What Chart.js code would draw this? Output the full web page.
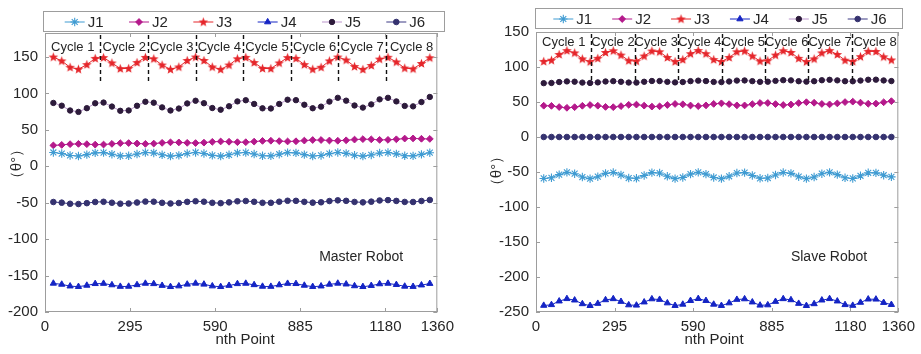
<!DOCTYPE html>
<html>
<head>
<meta charset="utf-8">
<script src="https://cdn.jsdelivr.net/npm/chart.js@4.4.1/dist/chart.umd.min.js"></script>
<style>
  html, body { margin: 0; padding: 0; background: #fff; }
  #wrap { position: relative; width: 921px; height: 354px; overflow: hidden; }
  canvas { position: absolute; top: 0; }
</style>
</head>
<body>
<div id="wrap">
  <canvas id="master" width="460" height="354" style="left:0"></canvas>
  <canvas id="slave" width="461" height="354" style="left:460px"></canvas>
</div>
<script>
// ---- sample positions (nth point) ----
const xPoints = [29, 58, 87, 116, 145, 174, 203, 232, 261, 290, 319, 348, 377, 406, 435, 464,
  493, 522, 551, 580, 609, 638, 667, 696, 725, 754, 783, 812, 841, 870, 899, 928, 957, 986,
  1015, 1044, 1073, 1102, 1131, 1160, 1189, 1218, 1247, 1276, 1305, 1334];
const xTicks = [0, 295, 590, 885, 1180, 1360];
const jointNames = ['J1', 'J2', 'J3', 'J4', 'J5', 'J6'];
const cycleNames = ['Cycle 1', 'Cycle 2', 'Cycle 3', 'Cycle 4', 'Cycle 5', 'Cycle 6', 'Cycle 7', 'Cycle 8'];

// ---- master robot joint angles (deg) ----
const masterJ1 = [19, 17.5, 14.9, 14.1, 16, 18.5, 18.8, 16.6, 14.3, 14.4, 16.8, 18.9, 18.3, 15.8, 14, 15,
  17.6, 19, 17.6, 15, 14, 15.8, 18.3, 18.9, 16.8, 14.4, 14.3, 16.6, 18.8, 18.5, 16, 14.1, 14.9, 17.4,
  19, 17.8, 15.2, 14, 15.6, 18.2, 18.9, 17, 14.5, 14.3, 16.4, 18.7];
const masterJ2 = [28.7, 29.4, 30.4, 30.8, 30.4, 29.8, 29.9, 30.8, 31.7, 31.9, 31.3, 30.8, 31.2, 32.2, 32.9, 32.8,
  32.2, 31.9, 32.5, 33.6, 34.1, 33.7, 33.1, 33.1, 33.9, 34.9, 35.1, 34.6, 34.1, 34.4, 35.3, 36.1, 36.1, 35.4,
  35.1, 35.7, 36.7, 37.3, 37, 36.3, 36.3, 37.1, 38.1, 38.3, 37.8, 37.6];
const masterJ3 = [150, 144.7, 135.9, 133.3, 139.6, 148.1, 149.2, 141.9, 134.1, 134.4, 142.5, 149.5, 147.6, 139, 133.1, 136.4,
  145.3, 150, 145.3, 136.4, 133.1, 139, 147.6, 149.5, 142.5, 134.4, 134.1, 141.9, 149.2, 148.1, 139.6, 133.3, 135.9, 144.7,
  150, 145.9, 137, 133, 138.4, 147.2, 149.7, 143.2, 134.8, 133.8, 141.2, 149];
const masterJ4 = [-160.7, -162.1, -164.5, -165.2, -163.5, -161.2, -160.9, -162.9, -165, -164.9, -162.7, -160.8, -161.3, -163.7, -165.3, -164.4,
  -162, -160.7, -162, -164.4, -165.3, -163.7, -161.3, -160.8, -162.7, -164.9, -165, -162.9, -160.9, -161.2, -163.5, -165.2, -164.5, -162.1,
  -160.7, -161.8, -164.2, -165.3, -163.8, -161.5, -160.8, -162.5, -164.8, -165.1, -163.1, -161];
const masterJ5 = [87, 83.2, 76.6, 74.7, 79.8, 86.5, 87.5, 82, 76.2, 76.7, 83.1, 88.6, 87.3, 80.9, 76.6, 79.3,
  86.3, 90, 86.6, 80, 77.7, 82.4, 89.1, 90.7, 85.6, 79.6, 79.4, 85.6, 91.4, 90.8, 84.5, 79.7, 81.9, 88.8,
  94, 90.1, 83.5, 80.6, 85, 91.9, 94, 89.1, 82.9, 82.3, 88.2, 95.2];
const masterJ6 = [-49, -49.9, -51.4, -51.8, -50.6, -49, -48.7, -50, -51.3, -51.1, -49.7, -48.4, -48.6, -50.1, -51, -50.4,
  -48.8, -47.9, -48.6, -50.1, -50.6, -49.5, -48, -47.6, -48.7, -50.1, -50.1, -48.6, -47.3, -47.4, -48.8, -49.9, -49.4, -47.7,
  -46.7, -47.4, -48.9, -49.5, -48.5, -46.9, -46.4, -47.5, -48.9, -49, -47.6, -46.2];

// ---- slave robot joint angles (deg) ----
const slaveJ1 = [-59.2, -58.3, -53.7, -50.6, -52.4, -57.2, -59.5, -56.7, -52, -50.7, -54.2, -58.6, -59, -54.9, -50.9, -51.5,
  -56.1, -59.4, -57.8, -53, -50.5, -53, -57.8, -59.4, -56.1, -51.5, -50.9, -54.9, -59, -58.6, -54.2, -50.7, -52, -56.7,
  -59.5, -57.2, -52.4, -50.6, -53.7, -58.3, -59.2, -55.4, -51.1, -51.2, -54.6, -57];
const slaveJ2 = [44.7, 44.5, 42.8, 41.7, 42.6, 44.6, 45.7, 44.7, 43, 42.6, 44.1, 46, 46.3, 44.8, 43.4, 43.8,
  45.7, 47.2, 46.7, 45, 44.1, 45.2, 47.3, 48.1, 46.9, 45.2, 45.1, 46.9, 48.6, 48.6, 47, 45.7, 46.4, 48.5,
  49.7, 48.9, 47.2, 46.6, 48, 49.9, 50.5, 49.1, 47.5, 47.7, 49.6, 51.2];
const slaveJ3 = [108, 109.7, 117.9, 123.4, 120.1, 111.6, 107.5, 112.4, 120.8, 123.2, 117, 109.1, 108.4, 115.7, 122.8, 121.7,
  113.6, 107.7, 110.6, 119, 123.5, 119, 110.6, 107.7, 113.6, 121.7, 122.8, 115.7, 108.4, 109.1, 117, 123.2, 120.8, 112.4,
  107.5, 111.6, 120.1, 123.4, 117.9, 109.7, 108, 114.8, 122.4, 122.2, 114.5, 110];
const slaveJ4 = [-240.7, -239.7, -234.5, -231.1, -233.1, -238.4, -241, -237.9, -232.7, -231.2, -235.1, -240, -240.4, -235.9, -231.4, -232.2,
  -237.2, -240.9, -239.1, -233.8, -231, -233.8, -239.1, -240.9, -237.2, -232.2, -231.4, -235.9, -240.4, -240, -235.1, -231.2, -232.7, -237.9,
  -241, -238.4, -233.1, -231.1, -234.5, -239.7, -240.7, -236.4, -231.7, -231.8, -236.6, -239.5];
const slaveJ5 = [76.9, 77.2, 78.5, 79.4, 79, 77.7, 77.2, 78, 79.3, 79.8, 78.9, 77.8, 77.7, 78.9, 80, 79.9,
  78.8, 78, 78.5, 79.8, 80.5, 79.9, 78.7, 78.4, 79.3, 80.6, 80.8, 79.8, 78.8, 79, 80.2, 81.2, 80.9, 79.7,
  79.1, 79.7, 81.1, 81.7, 80.9, 79.7, 79.6, 80.6, 81.8, 81.9, 80.8, 79.9];
const slaveJ6 = [0, 0, 0, 0, 0, 0, 0, 0, 0, 0, 0, 0, 0, 0, 0, 0,
  0, 0, 0, 0, 0, 0, 0, 0, 0, 0, 0, 0, 0, 0, 0, 0, 0, 0,
  0, 0, 0, 0, 0, 0, 0, 0, 0, 0, 0, 0];

// ---- axis ticks and cycle boundaries ----
const masterYTicks = [-200, -150, -100, -50, 0, 50, 100, 150];
const slaveYTicks = [-250, -200, -150, -100, -50, 0, 50, 100, 150];
const masterCycleBounds = [192, 357, 522, 687, 852, 1017, 1182];
const slaveCycleBounds = [208, 370, 533, 697, 860, 1022, 1186];

const FONT = "'Liberation Sans', Arial, sans-serif";
const TEXT = '#262626';
const FRAME = '#9d9d9d';

// filled five-point star marker
function starMarker(color) {
  const c = document.createElement('canvas');
  c.width = 11; c.height = 11;
  const g = c.getContext('2d');
  g.fillStyle = color;
  g.beginPath();
  for (let i = 0; i < 10; i++) {
    const r = i % 2 ? 2.1 : 5;
    const a = -Math.PI / 2 + i * Math.PI / 5;
    g.lineTo(5.5 + r * Math.cos(a), 5.8 + r * Math.sin(a));
  }
  g.closePath();
  g.fill();
  return c;
}

const jointStyles = [
  { line: '#3f9bd2', fill: '#3f9bd2', edge: '#3f9bd2', shape: 'star', r: 4.2, bw: 1.1 },
  { line: '#b4198b', fill: '#b4198b', edge: '#b4198b', shape: 'rectRot', r: 3.4, bw: 1 },
  { line: '#e5262b', fill: '#e5262b', edge: '#e5262b', shape: starMarker('#e5262b'), r: 5, bw: 1 },
  { line: '#1424c4', fill: '#1424c4', edge: '#1424c4', shape: 'triangle', r: 3.6, bw: 1 },
  { line: '#bb95cc', fill: '#2d1b3b', edge: '#2d1b3b', shape: 'circle', r: 2.7, bw: 1 },
  { line: '#3a3883', fill: '#35326f', edge: '#35326f', shape: 'circle', r: 2.8, bw: 1 }
];

function makeDatasets(series) {
  return series.map((vals, i) => {
    const s = jointStyles[i];
    return {
      label: jointNames[i],
      data: vals.map((v, k) => ({ x: xPoints[k], y: v })),
      borderColor: s.line,
      backgroundColor: s.fill,
      borderWidth: 1,
      pointStyle: s.shape,
      pointRadius: s.r,
      pointBackgroundColor: s.fill,
      pointBorderColor: s.edge,
      pointBorderWidth: s.bw,
      tension: 0
    };
  });
}

// frame, inward ticks, cycle markers, legend and captions
const decor = {
  id: 'decor',
  afterDraw(chart, args, o) {
    const { ctx, chartArea: a } = chart;
    const x = chart.scales.x, y = chart.scales.y;
    ctx.save();

    // dashed cycle boundaries
    ctx.strokeStyle = '#111';
    ctx.lineWidth = 1.4;
    ctx.setLineDash([4, 3]);
    o.bounds.forEach(b => {
      const px = Math.round(x.getPixelForValue(b)) + 0.5;
      ctx.beginPath();
      ctx.moveTo(px, a.top + 2);
      ctx.lineTo(px, y.getPixelForValue(o.dashEnd));
      ctx.stroke();
    });
    ctx.setLineDash([]);

    // cycle captions
    const edges = [x.min].concat(o.bounds, [x.max]);
    ctx.fillStyle = TEXT;
    ctx.font = '13px ' + FONT;
    ctx.textAlign = 'center';
    ctx.textBaseline = 'middle';
    const cy = y.getPixelForValue(o.cycleY);
    cycleNames.forEach((name, i) => {
      const mid = (edges[i] + edges[i + 1]) / 2;
      ctx.fillText(name, x.getPixelForValue(mid), cy);
    });

    // axes frame with inward ticks
    ctx.strokeStyle = FRAME;
    ctx.lineWidth = 1;
    ctx.strokeRect(a.left + 0.5, a.top + 0.5, a.right - a.left - 1, a.bottom - a.top - 1);
    ctx.beginPath();
    x.ticks.forEach(t => {
      const px = Math.round(x.getPixelForValue(t.value)) + 0.5;
      ctx.moveTo(px, a.bottom); ctx.lineTo(px, a.bottom - 4);
      ctx.moveTo(px, a.top); ctx.lineTo(px, a.top + 4);
    });
    y.ticks.forEach(t => {
      const py = Math.round(y.getPixelForValue(t.value)) + 0.5;
      ctx.moveTo(a.left, py); ctx.lineTo(a.left + 4, py);
      ctx.moveTo(a.right, py); ctx.lineTo(a.right - 4, py);
    });
    ctx.stroke();

    // legend box
    const L = o.legend;
    ctx.fillStyle = '#fff';
    ctx.fillRect(L.x, L.y, L.w, L.h);
    ctx.strokeStyle = FRAME;
    ctx.strokeRect(L.x + 0.5, L.y + 0.5, L.w - 1, L.h - 1);
    const step = L.w * 0.16;
    const lineLen = 20;
    const group = 5 * step + 37;
    const x0 = L.x + (L.w - group) / 2;
    const ly = L.y + L.h / 2 + 0.5;
    chart.data.datasets.forEach((ds, i) => {
      const lx = x0 + i * step;
      ctx.strokeStyle = ds.borderColor;
      ctx.lineWidth = 1;
      ctx.beginPath();
      ctx.moveTo(lx, ly); ctx.lineTo(lx + lineLen, ly);
      ctx.stroke();
      ctx.fillStyle = ds.pointBackgroundColor;
      ctx.strokeStyle = ds.pointBorderColor;
      ctx.lineWidth = ds.pointBorderWidth;
      Chart.helpers.drawPoint(ctx, { pointStyle: ds.pointStyle, radius: ds.pointRadius, rotation: 0, borderWidth: ds.pointBorderWidth }, lx + lineLen / 2, ly);
      ctx.fillStyle = TEXT;
      ctx.font = '15px ' + FONT;
      ctx.textAlign = 'left';
      ctx.textBaseline = 'middle';
      ctx.fillText(ds.label, lx + lineLen + 3, ly + 0.5);
    });

    // robot caption
    ctx.fillStyle = TEXT;
    ctx.font = '14px ' + FONT;
    ctx.textAlign = 'center';
    ctx.textBaseline = 'middle';
    ctx.fillText(o.caption, x.getPixelForValue(o.captionAt[0]), y.getPixelForValue(o.captionAt[1]));

    // axis titles
    ctx.font = '15px ' + FONT;
    ctx.fillText('nth Point', o.xTitle[0], o.xTitle[1]);
    ctx.save();
    ctx.translate(o.yTitle[0], o.yTitle[1]);
    ctx.rotate(-Math.PI / 2);
    ctx.fillText('（θ°）', 0, 0);
    ctx.restore();

    ctx.restore();
  }
};

function makeChart(id, series, yTicks, yMin, yMax, yAxisWidth, rightPad, topPad, deco) {
  return new Chart(document.getElementById(id), {
    type: 'line',
    data: { datasets: makeDatasets(series) },
    options: {
      responsive: false,
      animation: false,
      devicePixelRatio: 1,
      layout: { padding: { left: 0, right: rightPad, top: topPad, bottom: 0 } },
      plugins: { legend: { display: false }, tooltip: { enabled: false }, decor: deco },
      scales: {
        x: {
          type: 'linear', min: 0, max: 1360,
          afterBuildTicks: s => { s.ticks = xTicks.map(v => ({ value: v })); },
          afterFit: s => { s.height = 42; },
          grid: { display: false, drawTicks: false },
          border: { display: false },
          ticks: { padding: 6, color: TEXT, font: { family: FONT, size: 15 }, maxRotation: 0, autoSkip: false,
            callback: v => String(v) }
        },
        y: {
          type: 'linear', min: yMin, max: yMax,
          afterBuildTicks: s => { s.ticks = yTicks.map(v => ({ value: v })); },
          afterFit: s => { s.width = yAxisWidth; },
          grid: { display: false, drawTicks: false },
          border: { display: false },
          ticks: { padding: 7, color: TEXT, font: { family: FONT, size: 15 }, callback: v => String(v) }
        }
      }
    },
    plugins: [decor]
  });
}

makeChart('master', [masterJ1, masterJ2, masterJ3, masterJ4, masterJ5, masterJ6],
  masterYTicks, -200, 183, 45, 17, 33, {
    bounds: masterCycleBounds, dashEnd: 114, cycleY: 163.7,
    legend: { x: 43, y: 11, w: 402, h: 21 },
    caption: 'Master Robot', captionAt: [1096, -124.3],
    xTitle: [245, 340], yTitle: [17, 164]
  });

makeChart('slave', [slaveJ1, slaveJ2, slaveJ3, slaveJ4, slaveJ5, slaveJ6],
  slaveYTicks, -250, 150, 76, 18, 32, {
    bounds: slaveCycleBounds, dashEnd: 81, cycleY: 134.7,
    legend: { x: 75, y: 8, w: 368, h: 21 },
    caption: 'Slave Robot', captionAt: [1100, -171.4],
    xTitle: [254, 340], yTitle: [37, 171]
  });
</script>
</body>
</html>
